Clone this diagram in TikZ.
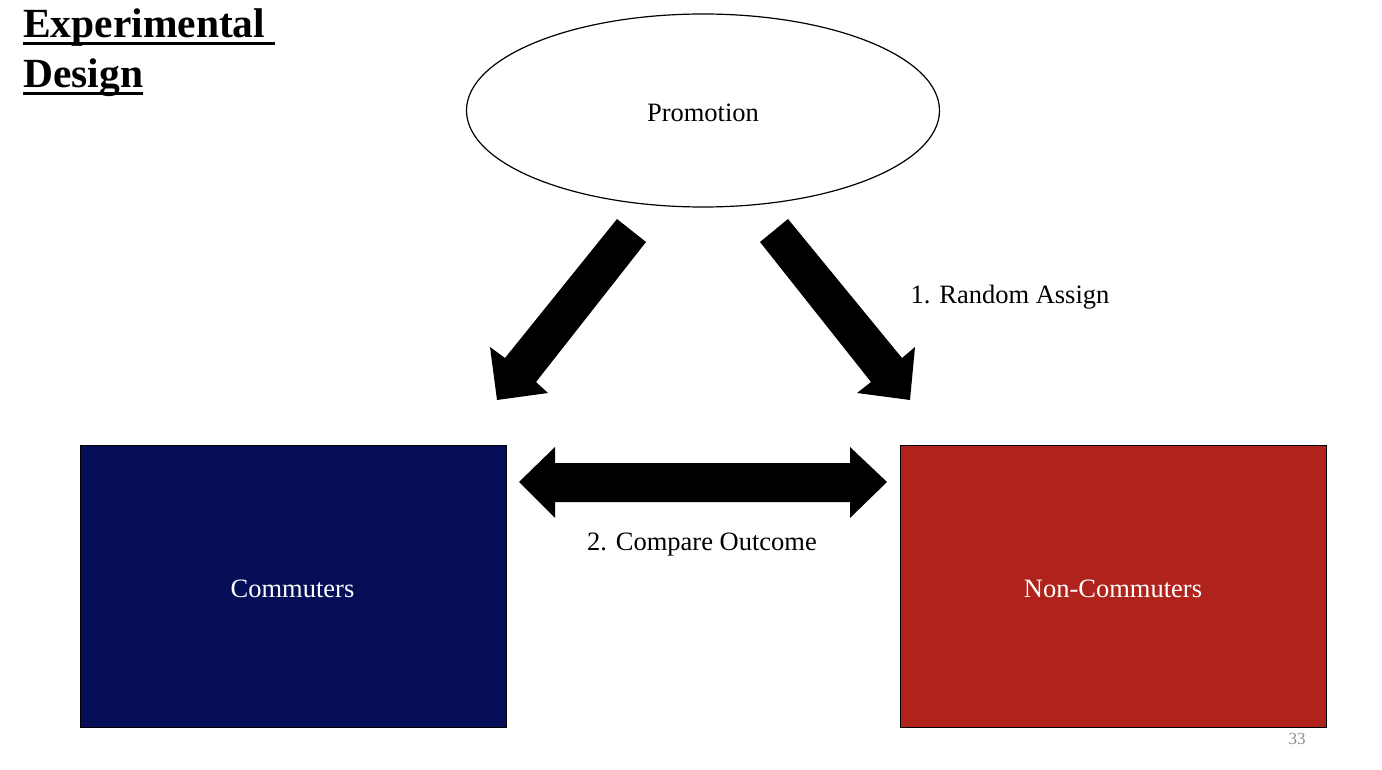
\documentclass[tikz,border=0pt]{standalone}
\usepackage{fontspec}
\setmainfont{Liberation Serif}
\usetikzlibrary{shapes.geometric}
\definecolor{navybox}{HTML}{060E57}
\definecolor{redbox}{HTML}{AF231C}
\definecolor{pagegray}{HTML}{8C8C8C}
\tikzset{
  label26/.style={font=\fontsize{26.5}{30}\selectfont, inner sep=0pt},
  boxstyle/.style={draw=black, line width=1.2pt, minimum width=426pt, minimum height=282pt, inner sep=0pt, anchor=north west},
  blockarrow/.style={fill=black, draw=none},
  titletext/.style={font=\fontsize{41.5}{44}\selectfont\bfseries, inner sep=0pt, anchor=base west},
}
\begin{document}
\begin{tikzpicture}[x=1pt,y=-1pt]
\useasboundingbox[fill=white] (0,0) rectangle (1382,770);
% title
\node[titletext] (t1) at (23,38) {Experimental};
\node[titletext] (t2) at (23,88) {Design};
\draw[line width=2.6pt] (23,43.5) -- (275,43.5);
\draw[line width=2.6pt] (23,93.5) -- (143,93.5);
% ellipse
\node[draw=black, line width=1.2pt, ellipse, minimum width=473pt, minimum height=193pt, inner sep=0pt] (promo) at (703,110.5) {};
\node[label26] (promotxt) at (703,112.5) {Promotion};
% boxes
\node[boxstyle, fill=navybox] (comm) at (80,445) {};
\node[label26, text=white] (commtxt) at (292.5,588.5) {Commuters};
\node[boxstyle, fill=redbox] (noncomm) at (900,445) {};
\node[label26, text=white] (noncommtxt) at (1113,588.5) {Non-Commuters};
% left block arrow
\fill[blockarrow] (617,219) -- (646,242) -- (536,382) -- (548,393) -- (497,400) -- (490,347) -- (505,358) -- cycle;
% right block arrow
\fill[blockarrow] (788,219) -- (760,242) -- (871,382) -- (857,393) -- (910,400) -- (915,347) -- (902,358) -- cycle;
% double arrow
\fill[blockarrow] (519,482) -- (555,447) -- (555,463) -- (850,463) -- (850,447) -- (887,482) -- (850,518) -- (850,502) -- (555,502) -- (555,518) -- cycle;
% labels
\node[label26] (lab1) at (1010,297) {1. Random Assign};
\node[label26] (lab2) at (702,545) {2. Compare Outcome};
\node[font=\fontsize{17}{19}\selectfont, text=pagegray, inner sep=0pt] (page) at (1297,739) {33};
\end{tikzpicture}
\end{document}
